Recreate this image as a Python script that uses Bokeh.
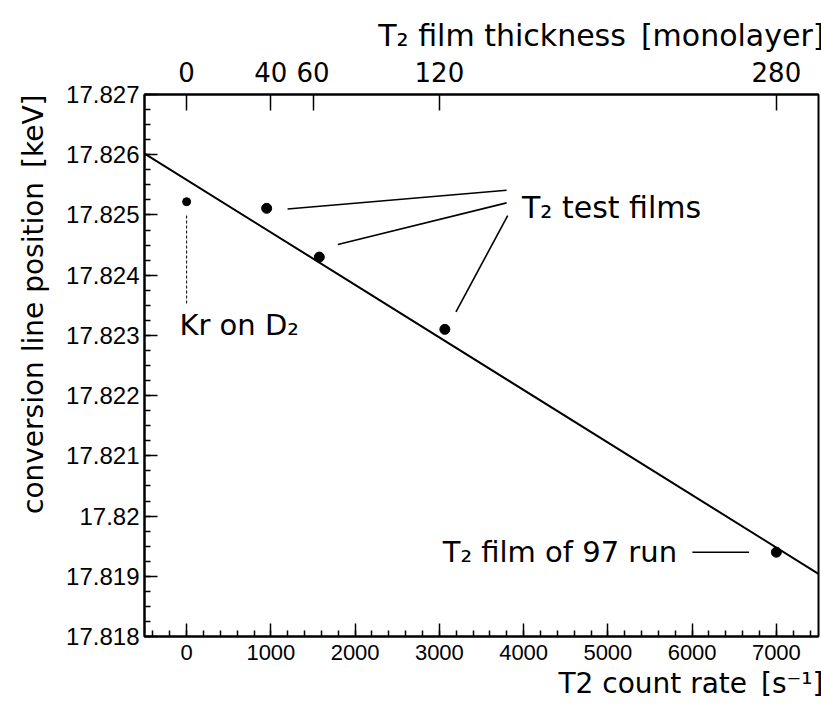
from bokeh.plotting import figure
from bokeh.models import LinearAxis, FixedTicker, SingleIntervalTicker, Range1d, Title
from bokeh.core.properties import value
from bokeh.embed import file_html
from bokeh.resources import INLINE

# ---- data ----
count_rate = [0, 950, 1575, 3065, 7000]            # T2 count rate [s^-1]
line_position = [17.82522, 17.82511, 17.82430, 17.82310, 17.81940]  # keV
fit_x = [-500, 7500]
fit_y = [17.82602, 17.81904]
thickness_ml = [0, 40, 60, 120, 280]
counts_per_ml = 25
y_ticks = [17.818, 17.819, 17.82, 17.821, 17.822, 17.823, 17.824, 17.825, 17.826, 17.827]

# annotation leader lines (data coords)
test_lines_x0 = [1198, 1795, 3197]
test_lines_y0 = [17.82510, 17.82451, 17.82339]
test_lines_x1 = [3798, 3798, 3811]
test_lines_y1 = [17.82541, 17.82520, 17.82499]
kr_line_x = [0, 0]
kr_line_y = [17.82499, 17.82353]
run_line_x = [6003, 6676]
run_line_y = [17.81940, 17.81940]

X_MIN, X_MAX = -500, 7500
Y_MIN, Y_MAX = 17.818, 17.827

TICKFONT = "Liberation Sans"
FONT = "DejaVu Sans"
GAP = "\u2002"

p = figure(frame_width=674, frame_height=542,
           x_range=Range1d(X_MIN, X_MAX), y_range=Range1d(Y_MIN, Y_MAX),
           output_backend="svg", toolbar_location=None,
           min_border_left=144, min_border_right=3,
           min_border_top=94, min_border_bottom=75)
p.grid.visible = False
p.background_fill_color = "white"
p.border_fill_color = "white"
p.outline_line_color = "black"
p.outline_line_width = 2
p.outline_line_alpha = 1

# bottom axis
xa = p.xaxis[0]
xa.ticker = SingleIntervalTicker(interval=1000, num_minor_ticks=5)
# left axis
ya = p.yaxis[0]
ya.ticker = SingleIntervalTicker(interval=0.001, num_minor_ticks=4)
ya.major_label_overrides = {t: ("%g" % t) for t in y_ticks}

# top axis
top = LinearAxis(ticker=FixedTicker(ticks=[m * counts_per_ml for m in thickness_ml]))
top.major_label_overrides = {m * counts_per_ml: str(m) for m in thickness_ml}
p.add_layout(top, "above")

for ax in (xa, ya, top):
    ax.axis_line_width = 2
    ax.axis_line_color = "black"
    ax.major_tick_in = 13
    ax.major_tick_out = 0
    ax.minor_tick_in = 6
    ax.minor_tick_out = 0
    ax.major_tick_line_width = 1.5
    ax.minor_tick_line_width = 1.5
    ax.major_label_text_font = TICKFONT
    ax.major_label_text_color = "black"

top.major_tick_in = 16
top.major_label_text_font = FONT
xa.major_label_text_font_size = "22px"
top.major_label_text_font_size = "26px"
ya.major_label_text_font_size = "24px"
xa.major_label_standoff = 8
top.major_label_standoff = 13
ya.major_label_standoff = 5

# axis titles, aligned to the right/top end as in the original
p.add_layout(Title(text="T2 count rate" + GAP + "[s\u207B\u00B9]", align="right", offset=-5,
                   standoff=5, text_font=FONT, text_font_size="28px",
                   text_font_style="normal", text_color="black"), "below")
p.add_layout(Title(text="T\u2082 film thickness" + GAP + "[monolayer]", align="right", offset=-6,
                   standoff=12, text_font=FONT, text_font_size="30px",
                   text_font_style="normal", text_color="black"), "above")
p.add_layout(Title(text="conversion line position" + GAP + "[keV]", align="right", offset=0,
                   standoff=28, text_font=FONT, text_font_size="28px",
                   text_font_style="normal", text_color="black"), "left")

# fit line
p.line(fit_x, fit_y, line_color="black", line_width=2)

# data points
p.scatter(count_rate[1:], line_position[1:], size=10, color="black")
p.scatter(count_rate[:1], line_position[:1], size=8, color="black")

# annotations
p.segment(test_lines_x0, test_lines_y0, test_lines_x1, test_lines_y1,
          line_color="black", line_width=1.6)
p.line(kr_line_x, kr_line_y, line_color="black", line_width=1, line_dash="3 2")
p.line(run_line_x, run_line_y, line_color="black", line_width=1.6)

p.text(x=[3981], y=[17.82513], text=["T\u2082 test films"],
       text_font=value(FONT), text_font_size="30px", text_baseline="middle",
       text_align="left", text_color="black")
p.text(x=[-85], y=[17.82317], text=["Kr on D\u2082"],
       text_font=value(FONT), text_font_size="29px", text_baseline="middle",
       text_align="left", text_color="black")
p.text(x=[5821], y=[17.81940], text=["T\u2082 film of 97 run"],
       text_font=value(FONT), text_font_size="29px", text_baseline="middle",
       text_align="right", text_color="black")

open("out.html", "w").write(file_html(p, INLINE))
